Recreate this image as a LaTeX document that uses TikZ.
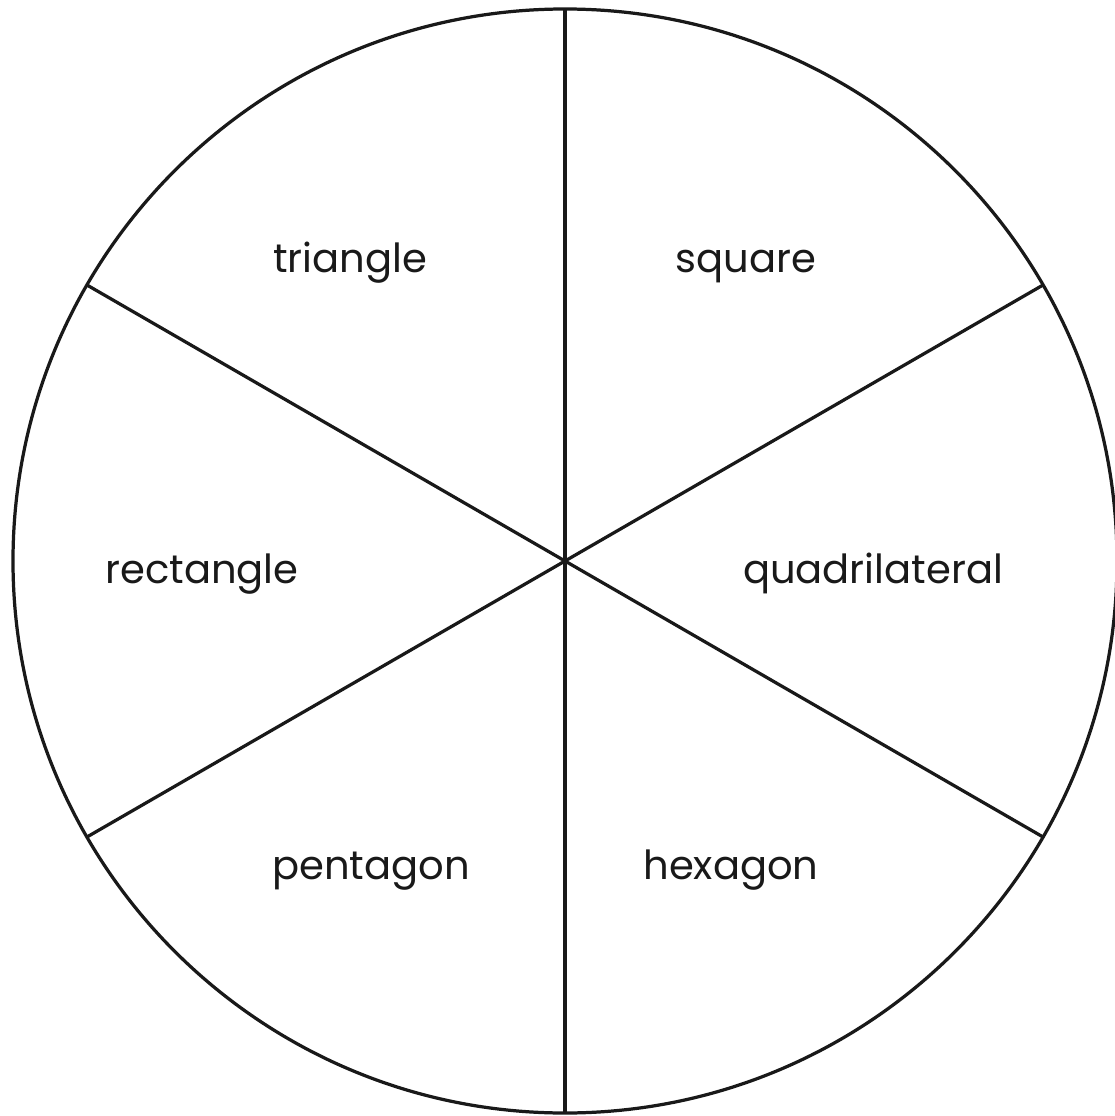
\documentclass[tikz,border=0pt]{standalone}
\usepackage{fontspec}
\setmainfont{Poppins}
\usetikzlibrary{calc}
\begin{document}
\begin{tikzpicture}[x=0.025cm,y=-0.025cm,
  rim/.style={line width=2.3pt,draw=black!90},
  spoke/.style={line width=2.3pt,draw=black!90},
  lbl/.style={font=\fontsize{28.5}{32}\selectfont,text=black!90,inner sep=0pt,anchor=base}]
\useasboundingbox (0,0) rectangle (1115,1116);
\coordinate (c) at (565,561);
\draw[rim] (c) circle[radius=552];
\foreach \a/\n in {90/top,270/bot,30/ur,150/ul,210/ll,330/lr}
  \coordinate (\n) at ($(c)+(\a:552 and -552)$);
\draw[spoke] (top) -- (bot);
\draw[spoke] (ul) -- (lr);
\draw[spoke] (ur) -- (ll);
\node[lbl] (tri) at (350,272) {triangle};
\node[lbl] (sq) at (746,272) {square};
\node[lbl] (rect) at (202,583) {rectangle};
\node[lbl] (quad) at (873,583) {quadrilateral};
\node[lbl] (pent) at (371,879) {pentagon};
\node[lbl] (hex) at (731,879) {hexagon};
\end{tikzpicture}
\end{document}
